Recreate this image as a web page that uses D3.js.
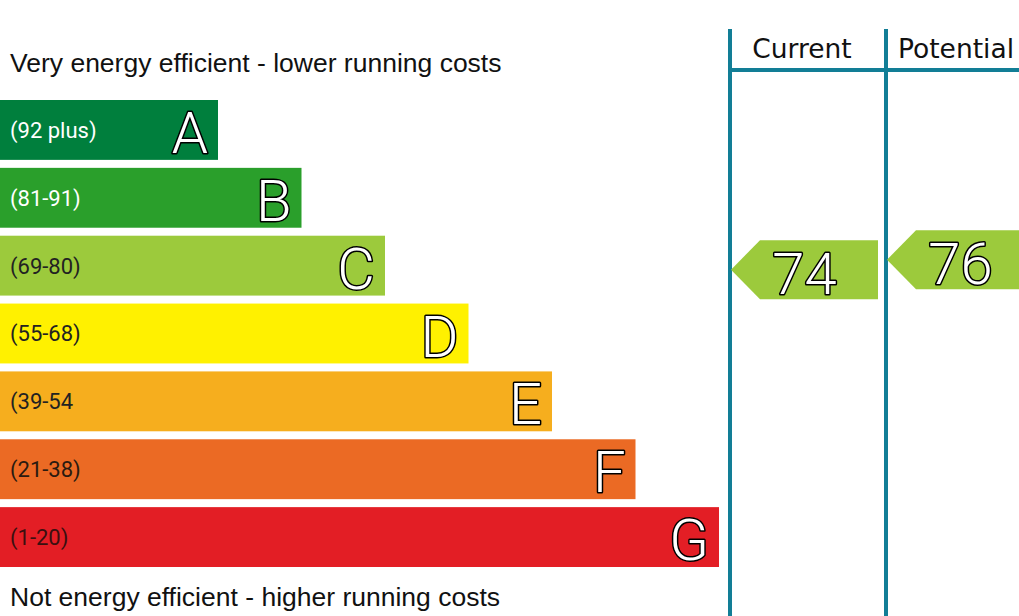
<!DOCTYPE html>
<html>
<head>
<meta charset="utf-8">
<script src="https://cdn.jsdelivr.net/npm/d3@7"></script>
<style>
  body { margin: 0; background: #fff; }
  svg { display: block; }
</style>
</head>
<body>
<div id="epcChart"></div>
<script>
// rating bands, top to bottom
var letters = ["A", "B", "C", "D", "E", "F", "G"];
var ranges = ["(92 plus)", "(81-91)", "(69-80)", "(55-68)", "(39-54", "(21-38)", "(1-20)"];
var bandColors = ["#007f3d", "#2a9f2b", "#9cca3c", "#fff100", "#f6ae1e", "#eb6a24", "#e31e25"];
var labelColors = ["#fff", "#fff", "#222", "#222", "#222", "#2a1a10", "#3a1010"];

// score limits of band C, used to place the arrows inside it
var bandCTop = 81, bandCBottom = 69;

// ratings
var columns = ["Current", "Potential"];
var scores = [74, 76];

var width = 1019, height = 616;
var teal = "#127e96";

var svg = d3.select("#epcChart")
  .append("svg")
  .attr("width", width)
  .attr("height", height);

// scales
var y = d3.scaleBand()
  .domain(letters)
  .range([100, 567])
  .paddingInner(8 / 68)
  .paddingOuter(0);

var barW = d3.scaleLinear()
  .domain([0, letters.length - 1])
  .range([218, 719]);

var colX = d3.scaleOrdinal()
  .domain(columns)
  .range([730, 886]);

var colW = 147;

var yC = y("C");
var yScore = d3.scaleLinear()
  .domain([bandCTop, bandCBottom])
  .range([yC - 1, yC + 59]);

// headings
svg.append("text")
  .attr("x", 10).attr("y", 72)
  .text("Very energy efficient - lower running costs")
  .style("font-family", "'Liberation Sans', Arial, sans-serif")
  .style("font-size", "26.5px")
  .attr("fill", "#111");

svg.append("text")
  .attr("x", 10).attr("y", 606)
  .text("Not energy efficient - higher running costs")
  .style("font-family", "'Liberation Sans', Arial, sans-serif")
  .style("font-size", "26.5px")
  .attr("fill", "#111");

// bars
var bars = svg.selectAll(".band")
  .data(letters)
  .enter()
  .append("g")
  .attr("class", "band");

bars.append("rect")
  .attr("x", 0)
  .attr("y", function(d) { return y(d); })
  .attr("width", function(d, i) { return barW(i); })
  .attr("height", y.bandwidth())
  .attr("fill", function(d, i) { return bandColors[i]; });

bars.append("text")
  .attr("x", 10)
  .attr("y", function(d) { return y(d) + y.bandwidth() / 2; })
  .attr("dy", "0.36em")
  .text(function(d, i) { return ranges[i]; })
  .style("font-family", "Roboto, sans-serif")
  .style("font-size", "22px")
  .attr("fill", function(d, i) { return labelColors[i]; });

bars.append("text")
  .attr("x", function(d, i) { return barW(i) - 10; })
  .attr("y", function(d) { return y(d) + y.bandwidth() / 2 + 23; })
  .attr("text-anchor", "end")
  .text(function(d) { return d; })
  .style("font-family", "Roboto, sans-serif")
  .style("font-weight", "300")
  .style("font-size", "58px")
  .style("paint-order", "stroke")
  .attr("fill", "#fff")
  .attr("stroke", "#000")
  .attr("stroke-width", 3)
  .attr("stroke-linejoin", "round");

// column frame
columns.forEach(function(c) {
  svg.append("line")
    .attr("x1", colX(c)).attr("x2", colX(c))
    .attr("y1", 29).attr("y2", height)
    .attr("stroke", teal)
    .attr("stroke-width", 4);
  svg.append("text")
    .attr("x", c == "Current" ? 802 : 956)
    .attr("y", 58)
    .attr("text-anchor", "middle")
    .text(c)
    .style("font-family", "'DejaVu Sans', sans-serif")
    .style("font-size", "26.5px")
    .attr("fill", "#111");
});

svg.append("line")
  .attr("x1", colX("Current")).attr("x2", width)
  .attr("y1", 70).attr("y2", 70)
  .attr("stroke", teal)
  .attr("stroke-width", 4);

// rating arrows
var arrows = svg.selectAll(".arrow")
  .data(columns)
  .enter()
  .append("g")
  .attr("class", "arrow");

arrows.append("path")
  .attr("d", function(c, i) {
    var x0 = colX(c) + 1, cy = yScore(scores[i]), h = 29.5;
    return "M" + x0 + "," + cy +
      "L" + (x0 + 29) + "," + (cy - h) +
      "L" + (x0 + colW) + "," + (cy - h) +
      "L" + (x0 + colW) + "," + (cy + h) +
      "L" + (x0 + 29) + "," + (cy + h) + "Z";
  })
  .attr("fill", bandColors[2]);

arrows.append("text")
  .attr("x", function(c) { return colX(c) + 1 + colW / 2; })
  .attr("y", function(c, i) { return yScore(scores[i]) + 24.5; })
  .attr("text-anchor", "middle")
  .text(function(c, i) { return scores[i]; })
  .style("font-family", "Roboto, sans-serif")
  .style("font-weight", "300")
  .style("font-size", "58px")
  .style("paint-order", "stroke")
  .attr("fill", "#fff")
  .attr("stroke", "#000")
  .attr("stroke-width", 3)
  .attr("stroke-linejoin", "round");
</script>
</body>
</html>
